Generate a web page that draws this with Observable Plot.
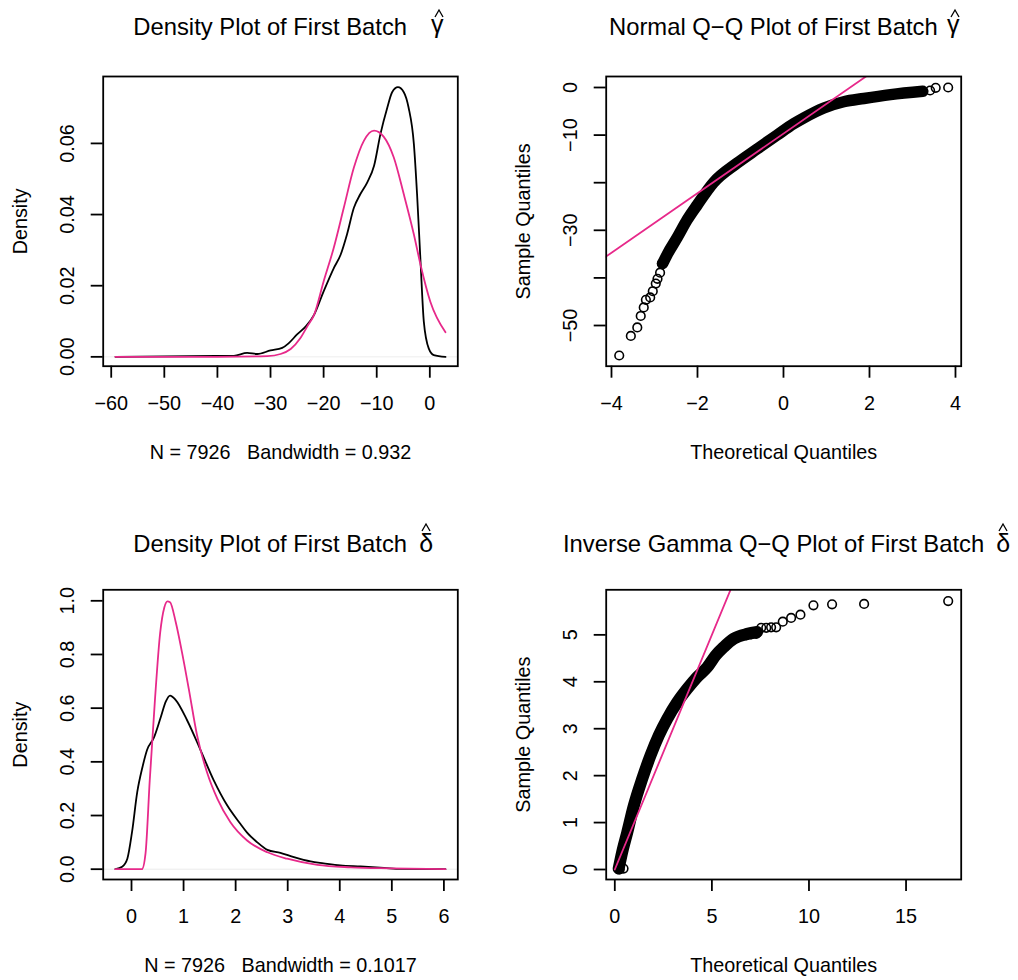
<!DOCTYPE html>
<html>
<head>
<meta charset="utf-8">
<script src="https://cdn.jsdelivr.net/npm/d3@7"></script>
<script src="https://cdn.jsdelivr.net/npm/@observablehq/plot@0.6"></script>
<style>
  html, body { margin: 0; padding: 0; background: #ffffff; }
  #wrap { position: relative; width: 1018px; height: 980px; overflow: hidden;
          font-family: "Liberation Sans", Arial, Helvetica, sans-serif; color: #000; background: #fff; }
  .panel { position: absolute; width: 509px; height: 490px; }
  .t { position: absolute; white-space: pre; line-height: 1; color: #000; }
  .hat { position: absolute; overflow: visible; }
</style>
</head>
<body>
<div id="wrap"></div>
<script>
// ---------------- Data ----------------
// Panel 1: density of first batch gamma-hat (black) and fitted normal (pink)
const gammaDensX = [-59.2, -45, -36.9, -34.4, -32.5, -30.0, -27.8, -26.6, -25.0, -23.4, -21.8, -20.0, -18.1, -16.8, -15.6, -14.3, -13.1, -11.8, -10.5, -9.3, -8.0, -7.1, -6.0, -4.9, -4.0, -3.0, -2.4, -1.75, -1.13, -0.19, 0.75, 2.95];
const gammaDensY = [0, 0.0002, 0.0003, 0.0011, 0.0008, 0.0018, 0.0025, 0.0038, 0.0063, 0.0085, 0.0118, 0.0184, 0.0249, 0.0287, 0.0344, 0.0419, 0.0457, 0.0490, 0.0537, 0.0626, 0.0701, 0.0744, 0.0758, 0.0744, 0.0701, 0.0598, 0.0457, 0.0268, 0.0099, 0.0023, 0.0005, 0];
const gammaNormX = [-59.2, -40, -30.6, -28.1, -26.2, -24.4, -23.1, -21.8, -20.0, -18.1, -16.2, -14.3, -12.4, -10.5, -8.7, -6.8, -4.9, -3.0, -1.75, 0.1, 2.95];
const gammaNormY = [0, 0, 0.0002, 0.0008, 0.0022, 0.0052, 0.0085, 0.0118, 0.0212, 0.0306, 0.0419, 0.0532, 0.0608, 0.0636, 0.0619, 0.0561, 0.0457, 0.0344, 0.0259, 0.0155, 0.0069];
const p1XTicks = [-60, -50, -40, -30, -20, -10, 0];
const p1YTicks = [0, 0.02, 0.04, 0.06];
const p1YLabels = ["0.00", "0.02", "0.04", "0.06"];

// Panel 2: normal Q-Q plot of gamma-hat
const gammaQQBandX = [-2.81, -2.70, -2.47, -2.24, -2.00, -1.63, -1.08, -0.61, -0.15, 0.24, 0.47, 0.94, 1.40, 1.87, 2.49, 3.24];
const gammaQQBandY = [-37.0, -35.0, -31.5, -27.8, -24.6, -20.0, -15.9, -12.9, -10.0, -7.6, -6.4, -4.3, -3.0, -2.3, -1.5, -0.8];
const gammaQQTailX = [-3.82, -3.55, -3.40, -3.32, -3.25, -3.20, -3.10, -3.04, -2.97, -2.93, -2.87, -2.83, 3.41, 3.54, 3.83];
const gammaQQTailY = [-56.3, -52.2, -50.4, -48.0, -46.2, -44.6, -44.1, -42.8, -41.2, -40.2, -38.9, -37.0, -0.63, -0.07, 0.0];
const gammaQQLineX = [-4.3, 2.1];
const gammaQQLineY = [-36.6, 3.45];
const p2XTicks = [-4, -2, 0, 2, 4];
const p2YTicks = [0, -10, -20, -30, -40, -50];
const p2YLabelTicks = [0, -10, -30, -50];

// Panel 3: density of first batch delta-hat (black) and inverse gamma (pink)
const deltaDensX = [-0.31, -0.18, -0.08, 0.01, 0.11, 0.21, 0.30, 0.43, 0.56, 0.66, 0.74, 0.85, 1.07, 1.33, 1.58, 1.84, 2.09, 2.22, 2.41, 2.61, 2.86, 3.12, 3.44, 3.69, 4.01, 4.40, 4.85, 5.17, 6.03];
const deltaDensY = [0, 0.009, 0.039, 0.138, 0.287, 0.380, 0.445, 0.490, 0.565, 0.625, 0.647, 0.630, 0.554, 0.442, 0.331, 0.237, 0.169, 0.136, 0.101, 0.072, 0.061, 0.045, 0.029, 0.022, 0.014, 0.010, 0.005, 0.001, 0];
const deltaInvGX = [-0.31, 0.20, 0.27, 0.35, 0.45, 0.55, 0.63, 0.69, 0.74, 0.85, 0.97, 1.10, 1.26, 1.45, 1.65, 1.90, 2.22, 2.61, 2.99, 3.57, 4.21, 4.98, 6.03];
const deltaInvGY = [0, 0, 0.06, 0.33, 0.63, 0.88, 0.975, 0.998, 0.995, 0.920, 0.808, 0.672, 0.498, 0.361, 0.262, 0.175, 0.107, 0.063, 0.039, 0.016, 0.007, 0.003, 0];
const p3XTicks = [0, 1, 2, 3, 4, 5, 6];
const p3YTicks = [0, 0.2, 0.4, 0.6, 0.8, 1.0];
const p3YLabels = ["0.0", "0.2", "0.4", "0.6", "0.8", "1.0"];

// Panel 4: inverse gamma Q-Q plot of delta-hat
const deltaQQBandX = [0.20, 0.38, 0.64, 0.98, 1.41, 1.84, 2.27, 2.70, 3.21, 3.73, 4.24, 4.76, 5.19, 5.61, 6.13, 6.82, 7.33];
const deltaQQBandY = [0.02, 0.37, 0.79, 1.36, 1.93, 2.43, 2.86, 3.21, 3.56, 3.85, 4.10, 4.31, 4.56, 4.74, 4.92, 5.02, 5.06];
const deltaQQTailX = [0.25, 0.45, 6.77, 7.02, 7.28, 7.54, 7.80, 8.05, 8.31, 8.65, 9.08, 9.56, 10.23, 11.19, 12.84, 17.17];
const deltaQQTailY = [0.00, 0.02, 4.99, 5.01, 5.02, 5.15, 5.15, 5.16, 5.16, 5.28, 5.36, 5.43, 5.63, 5.65, 5.66, 5.72];
const deltaQQLineX = [0, 6.4];
const deltaQQLineY = [0, 6.4];
const p4XTicks = [0, 5, 10, 15];
const p4YTicks = [0, 1, 2, 3, 4, 5];

// ---------------- Helpers ----------------
const PINK = "#E7298A";
const FONT = '"Liberation Sans", Arial, Helvetica, sans-serif';
const FS = 19.8;
const pts = (xs, ys) => xs.map((x, i) => ({x, y: ys[i]}));
const fmtMinus = d => String(d).replace(/-/g, "\u2212");
const wrap = document.getElementById("wrap");

function basePlot({left, top, mL, mR, mT, mB, xDomain, yDomain, xTicks, yTicks, yLabelTicks, yLabelFmt,
                   yTitle, xTitle, marks}) {
  const chart = Plot.plot({
    width: 509, height: 490,
    marginLeft: mL, marginRight: mR, marginTop: mT, marginBottom: mB,
    x: {domain: xDomain},
    y: {domain: yDomain},
    style: {fontFamily: FONT, fontSize: FS + "px", color: "#000", background: "#fff", overflow: "visible"},
    marks: [
      ...marks,
      Plot.frame({stroke: "#000", strokeWidth: 1.8}),
      Plot.axisX(xTicks, {tickSize: 12, tickPadding: 19, strokeWidth: 1.8, text: null, label: null}),
      Plot.text(xTicks, {x: d => d, text: fmtMinus, frameAnchor: "bottom", dy: 37.5,
                         fontSize: FS, textAnchor: "middle", lineAnchor: "middle", fill: "#000"}),
      Plot.axisY(yTicks, {tickSize: 12, strokeWidth: 1.8, text: null, label: null}),
      Plot.text(yLabelTicks, {y: d => d, text: yLabelFmt, frameAnchor: "left", rotate: -90, dx: -35.5,
                              fontSize: FS, textAnchor: "middle", lineAnchor: "middle", fill: "#000"}),
      Plot.text([yTitle], {text: d => d, frameAnchor: "left", rotate: -90, dx: -82.5,
                           fontSize: FS, textAnchor: "middle", lineAnchor: "middle", fill: "#000"}),
      Plot.text([xTitle], {text: d => d, frameAnchor: "bottom", dy: 86.4,
                           fontSize: FS, textAnchor: "middle", lineAnchor: "middle", fill: "#000"})
    ]
  });
  const div = document.createElement("div");
  div.className = "panel";
  div.style.left = left + "px";
  div.style.top = top + "px";
  div.appendChild(chart);
  wrap.appendChild(div);
}

// Title text with a plotmath-like hat accent (the hat is drawn as a small stroke, like R does)
function title(left, baseline, text, sym, symLeft, symSize, symShift, hatCx, hatBottom) {
  const mk = (txt, x, top, size) => {
    const s = document.createElement("span");
    s.className = "t";
    s.textContent = txt;
    s.style.left = x + "px";
    s.style.top = top + "px";
    s.style.fontSize = size + "px";
    wrap.appendChild(s);
    return s;
  };
  const TS = 23.8;
  mk(text, left, baseline - 0.8465 * TS, TS);
  mk(sym, symLeft, baseline - 0.8465 * symSize + symShift, symSize);
  const ns = "http://www.w3.org/2000/svg";
  const svg = document.createElementNS(ns, "svg");
  svg.setAttribute("class", "hat");
  svg.setAttribute("width", 10);
  svg.setAttribute("height", 9);
  svg.style.left = (hatCx - 5) + "px";
  svg.style.top = (hatBottom - 8) + "px";
  const pl = document.createElementNS(ns, "polyline");
  pl.setAttribute("points", "1,8 5,1 9,8");
  pl.setAttribute("fill", "none");
  pl.setAttribute("stroke", "#000");
  pl.setAttribute("stroke-width", "1.3");
  svg.appendChild(pl);
  wrap.appendChild(svg);
}

// ---------------- Panel 1 ----------------
basePlot({
  left: 0, top: 0, mL: 102.7, mR: 51.7, mT: 76, mB: 124.3,
  xDomain: [-61.51, 5.27], yDomain: [-0.00263, 0.07881],
  xTicks: p1XTicks, yTicks: p1YTicks, yLabelTicks: p1YTicks,
  yLabelFmt: (d, i) => p1YLabels[i],
  yTitle: "Density", xTitle: "N = 7926\u00a0\u00a0\u00a0Bandwidth = 0.932",
  marks: [
    Plot.ruleY([0], {stroke: "#e4e4e4", strokeWidth: 0.7}),
    Plot.line(pts(gammaDensX, gammaDensY), {x: "x", y: "y", stroke: "#000", strokeWidth: 1.8, curve: "monotone-x"}),
    Plot.line(pts(gammaNormX, gammaNormY), {x: "x", y: "y", stroke: PINK, strokeWidth: 1.8, curve: "monotone-x"})
  ]
});

// ---------------- Panel 2 ----------------
basePlot({
  left: 509, top: 0, mL: 96.7, mR: 57.3, mT: 76, mB: 124.3,
  xDomain: [-4.123, 4.133], yDomain: [-58.55, 2.31],
  xTicks: p2XTicks, yTicks: p2YTicks, yLabelTicks: p2YLabelTicks,
  yLabelFmt: d => fmtMinus(d),
  yTitle: "Sample Quantiles", xTitle: "Theoretical Quantiles",
  marks: [
    Plot.line(pts(gammaQQBandX, gammaQQBandY), {x: "x", y: "y", stroke: "#000", strokeWidth: 11.5,
      strokeLinecap: "round", strokeLinejoin: "round", curve: "monotone-x"}),
    Plot.dot(pts(gammaQQTailX, gammaQQTailY), {x: "x", y: "y", r: 4.3, stroke: "#000", strokeWidth: 1.6, fill: "none"}),
    Plot.line(pts(gammaQQLineX, gammaQQLineY), {x: "x", y: "y", stroke: PINK, strokeWidth: 1.8, clip: true})
  ]
});

// ---------------- Panel 3 ----------------
basePlot({
  left: 0, top: 490, mL: 102.7, mR: 51.7, mT: 99.3, mB: 101,
  xDomain: [-0.5436, 6.267], yDomain: [-0.0384, 1.041],
  xTicks: p3XTicks, yTicks: p3YTicks, yLabelTicks: p3YTicks,
  yLabelFmt: (d, i) => p3YLabels[i],
  yTitle: "Density", xTitle: "N = 7926\u00a0\u00a0\u00a0Bandwidth = 0.1017",
  marks: [
    Plot.ruleY([0], {stroke: "#e4e4e4", strokeWidth: 0.7}),
    Plot.line(pts(deltaDensX, deltaDensY), {x: "x", y: "y", stroke: "#000", strokeWidth: 1.8, curve: "monotone-x"}),
    Plot.line(pts(deltaInvGX, deltaInvGY), {x: "x", y: "y", stroke: PINK, strokeWidth: 1.8, curve: "monotone-x"})
  ]
});

// ---------------- Panel 4 ----------------
basePlot({
  left: 509, top: 490, mL: 96.7, mR: 57.3, mT: 99.3, mB: 101,
  xDomain: [-0.443, 17.84], yDomain: [-0.213, 5.96],
  xTicks: p4XTicks, yTicks: p4YTicks, yLabelTicks: p4YTicks,
  yLabelFmt: d => fmtMinus(d),
  yTitle: "Sample Quantiles", xTitle: "Theoretical Quantiles",
  marks: [
    Plot.line(pts(deltaQQBandX, deltaQQBandY), {x: "x", y: "y", stroke: "#000", strokeWidth: 12,
      strokeLinecap: "round", strokeLinejoin: "round", curve: "monotone-x"}),
    Plot.dot(pts(deltaQQTailX, deltaQQTailY), {x: "x", y: "y", r: 4.3, stroke: "#000", strokeWidth: 1.6, fill: "none"}),
    Plot.line(pts(deltaQQLineX, deltaQQLineY), {x: "x", y: "y", stroke: PINK, strokeWidth: 1.8, clip: true})
  ]
});

// ---------------- Titles ----------------
title(133.3, 35.5, "Density Plot of First Batch", "\u03b3", 431, 25, -2, 438.5, 16.5);
title(609, 35.5, "Normal Q\u2212Q Plot of First Batch", "\u03b3", 947, 25, -2, 955, 16.5);
title(133.3, 552.5, "Density Plot of First Batch", "\u03b4", 419.3, 25, 0, 426, 531);
title(563, 552.5, "Inverse Gamma Q\u2212Q Plot of First Batch", "\u03b4", 996.3, 25, 0, 1003, 531);
</script>
</body>
</html>
